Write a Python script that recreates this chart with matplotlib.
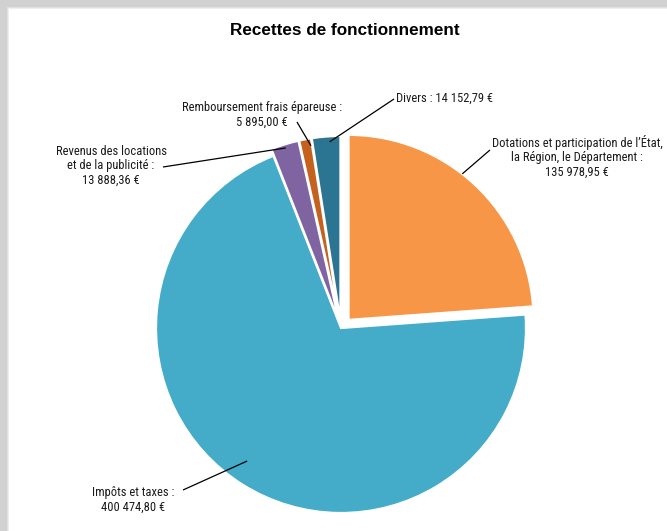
import numpy as np
import matplotlib
matplotlib.use("Agg")
import matplotlib.pyplot as plt
from matplotlib import font_manager as fm

# ---------------- data ----------------
title = "Recettes de fonctionnement"
categories = ["Dotations", "Impôts et taxes", "Revenus des locations", "Remboursement frais épareuse", "Divers"]
values = [135978.95, 400474.80, 13888.36, 5895.00, 14152.79]
labels = [
    "Dotations et participation de l’État,\nla Région, le Département :\n135 978,95 €",
    "Impôts et taxes :\n400 474,80 €",
    "Revenus des locations\net de la publicité :\n13 888,36 €",
    "Remboursement frais épareuse :\n5 895,00 €",
    "Divers : 14 152,79 €",
]
colors = ["#F79646", "#44ACC8", "#8064A2", "#C4611E", "#2C7592"]
explode_frac = [0.06, 0.0, 0.038, 0.038, 0.038]

# ---------------- fonts ----------------
names = {f.name for f in fm.fontManager.ttflist}
narrow = None
for cand in ["Liberation Sans Narrow", "Roboto Condensed", "Open Sans Condensed", "DejaVu Sans Condensed"]:
    if cand in names:
        narrow = dict(family=[cand, "DejaVu Sans"])
        break
if narrow is None:
    narrow = dict(family=["DejaVu Sans"])

W, H = 667, 531
fig = plt.figure(figsize=(W / 100, H / 100), dpi=100)

# background with soft grey frame (top & left)
bg = fig.add_axes([0, 0, 1, 1])
img = np.ones((H, W, 3))
yy, xx = np.mgrid[0:H, 0:W]
d = np.minimum(yy, xx).astype(float)
shade = np.clip((d - 6) / 3.0, 0, 1)
grey = 0.82
img *= (grey + (1 - grey) * shade)[..., None]
bg.imshow(img, extent=[0, W, 0, H], origin="upper", aspect="auto")
bg.set_xlim(0, W)
bg.set_ylim(0, H)
bg.axis("off")

ax = fig.add_axes([0, 0, 1, 1])
ax.patch.set_alpha(0)

cx, cy, R = 341, H - 328, 185
wedges, _ = ax.pie(values, colors=colors, explode=[e * R for e in explode_frac],
                   startangle=90, counterclock=False,
                   center=(cx, cy), radius=R, frame=True,
                   wedgeprops=dict(edgecolor="white", linewidth=1.6))
ax.set_xlim(0, W)
ax.set_ylim(0, H)
ax.axis("off")

fig.text(345 / W, 1 - 31 / H, title, ha="center", va="center", fontsize=12.3,
         fontweight="bold", family=["Liberation Sans", "DejaVu Sans"])

# label layout (pixel coords from top-left): text pos, ha, leader start, radius factor, angle shift
layout = [
    dict(t=(577, 157), ha="center", s=(490, 150), rf=1.0, da=5),
    dict(t=(133, 500), ha="center", s=(183, 490), rf=0.88, da=-3),
    dict(t=(111, 166), ha="center", s=(163, 167), rf=0.98, da=0),
    dict(t=(262, 115), ha="center", s=(297, 122), rf=0.96, da=-1.5),
    dict(t=(396, 98), ha="left", s=(394, 99), rf=0.97, da=-1),
]

for w, lab, L in zip(wedges, labels, layout):
    mid = np.deg2rad((w.theta1 + w.theta2) / 2 + L["da"])
    wx, wy = w.center
    ex = wx + w.r * L["rf"] * np.cos(mid)
    ey = wy + w.r * L["rf"] * np.sin(mid)
    sx, sy = L["s"][0], H - L["s"][1]
    ax.plot([sx, ex], [sy, ey], color="black", lw=0.9, solid_capstyle="butt")
    ax.text(L["t"][0], H - L["t"][1], lab, ha=L["ha"], va="center", fontsize=9,
            linespacing=1.15, color="#1a1a1a", multialignment="center", **narrow)

fig.savefig("out.png", dpi=100)
